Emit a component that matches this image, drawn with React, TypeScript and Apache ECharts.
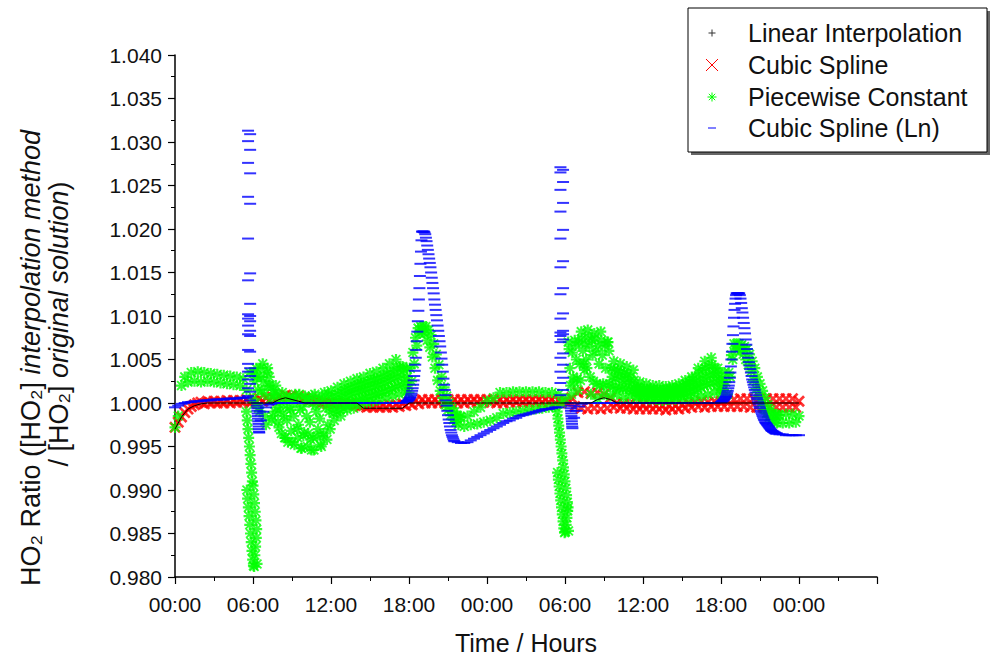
import { useEffect, useRef } from 'react';
import * as echarts from 'echarts';

const FONT = '"Liberation Sans", Arial, Helvetica, sans-serif';

// ---- axis labels ----
const TIME_LABELS = ['00:00', '06:00', '12:00', '18:00'];
const SERIES_NAMES = ['Linear Interpolation', 'Cubic Spline', 'Piecewise Constant', 'Cubic Spline (Ln)'];

// ---- Linear Interpolation (every 0.5 h from 0 h) ----
const BLACK = [
  0.9970, 0.9984, 0.9993, 0.9997, 0.9999,
  1.0000, 1.0000, 1.0000, 1.0000, 1.0000, 1.0000, 1.0000, 1.0000, 1.0000, 1.0000, 1.0000,
  1.0004, 1.0006, 1.0004, 1.0002,
  1.0000, 1.0000, 1.0000, 1.0000, 1.0000, 1.0000, 1.0000, 1.0000, 1.0000,
  0.9994, 0.9994, 0.9994, 0.9994, 0.9994, 0.9994, 0.9994,
  1.0000, 1.0000, 1.0000, 1.0000, 1.0000, 1.0000, 1.0000, 1.0000, 1.0000, 1.0000,
  1.0000, 1.0000, 1.0000, 1.0000, 1.0000, 1.0000, 1.0000, 1.0000, 1.0000, 1.0000,
  1.0000, 1.0000, 1.0000, 1.0000, 1.0000, 1.0000, 1.0000, 1.0000, 1.0000,
  1.0004, 1.0006, 1.0004,
  1.0000, 1.0000, 1.0000, 1.0000, 1.0000, 1.0000, 1.0000, 1.0000, 1.0000, 1.0000,
  1.0000, 1.0000, 1.0000, 1.0000, 1.0000, 1.0000, 1.0000, 1.0000, 1.0000, 1.0000,
  1.0000, 1.0000, 1.0000, 1.0000, 1.0000, 1.0000, 1.0000, 1.0000, 1.0000,
];

// ---- Cubic Spline (every 0.25 h from 0 h) ----
const RED = [
  0.9972, 0.9978, 0.9984, 0.9989,
  0.9993, 0.9996, 0.9998, 1.0000,
  1.0001, 0.9999, 1.0002, 1.0000,
  1.0002, 1.0000, 1.0002, 1.0000,
  1.0003, 1.0000, 1.0003, 1.0001,
  1.0003, 1.0001, 1.0004, 1.0000,
  1.0003, 1.0001, 1.0005, 1.0002,
  1.0006, 1.0003, 1.0007, 1.0004,
  1.0008, 1.0005, 1.0009, 1.0006,
  1.0008, 1.0005, 1.0008, 1.0004,
  1.0006, 1.0003, 1.0004, 1.0002,
  1.0002, 1.0000, 1.0001, 0.9999,
  1.0000, 0.9999, 1.0000, 0.9999,
  1.0000, 0.9998, 0.9999, 0.9998,
  0.9998, 0.9996, 0.9997, 0.9995,
  0.9997, 0.9995, 0.9997, 0.9995,
  0.9997, 0.9995, 0.9998, 0.9995,
  0.9998, 0.9996, 0.9999, 0.9997,
  1.0001, 0.9998, 1.0003, 0.9999,
  1.0004, 1.0000, 1.0004, 1.0000,
  1.0004, 1.0000, 1.0004, 1.0000,
  1.0004, 1.0000, 1.0004, 1.0000,
  1.0004, 1.0000, 1.0004, 1.0001,
  1.0004, 1.0001, 1.0004, 1.0001,
  1.0004, 1.0001, 1.0004, 1.0000,
  1.0004, 1.0000, 1.0004, 1.0001,
  1.0004, 1.0001, 1.0004, 1.0001,
  1.0004, 1.0001, 1.0004, 1.0001,
  1.0004, 1.0001, 1.0004, 1.0001,
  1.0004, 1.0000, 1.0003, 1.0001,
  1.0002, 1.0000, 1.0006, 0.9996,
  1.0012, 0.9994, 1.0013, 0.9993,
  1.0011, 0.9994, 1.0012, 0.9993,
  1.0010, 0.9994, 1.0006, 0.9995,
  1.0000, 0.9994, 0.9999, 0.9994,
  0.9999, 0.9993, 0.9998, 0.9993,
  0.9998, 0.9993, 0.9998, 0.9993,
  0.9997, 0.9993, 0.9997, 0.9992,
  0.9997, 0.9993, 0.9997, 0.9993,
  0.9998, 0.9994, 1.0000, 0.9995,
  1.0001, 0.9996, 1.0002, 0.9995,
  1.0001, 0.9996, 1.0002, 0.9996,
  1.0002, 0.9996, 1.0003, 0.9996,
  1.0004, 0.9996, 1.0005, 0.9996,
  1.0005, 0.9995, 1.0005, 0.9995,
  1.0005, 0.9995, 1.0005, 0.9995,
  1.0005, 0.9995, 1.0005, 0.9995,
  1.0005, 0.9995, 1.0005, 0.9995,
  1.0002,
];

// ---- Piecewise Constant ----
// 0 h .. 17.75 h, every 0.25 h
const GREEN_DAY1 = [
  0.9972, 0.9985, 1.0020, 1.0030,
  1.0024, 1.0035, 1.0025, 1.0036,
  1.0024, 1.0035, 1.0025, 1.0034,
  1.0024, 1.0033, 1.0023, 1.0032,
  1.0022, 1.0031, 1.0021, 1.0030,
  1.0020, 1.0028, 1.0015, 1.0035,
  1.0005, 1.0040, 0.9990, 1.0045,
  0.9975, 1.0030, 0.9985, 1.0020,
  0.9972, 1.0012, 0.9960, 1.0005,
  0.9955, 1.0010, 0.9975, 0.9948,
  1.0008, 0.9965, 0.9946, 1.0010,
  0.9970, 0.9950, 1.0012, 0.9975,
  1.0014, 0.9980, 1.0018, 0.9985,
  1.0022, 0.9992, 1.0025, 0.9994,
  1.0028, 0.9998, 1.0030, 1.0000,
  1.0034, 1.0002, 1.0036, 1.0004,
  1.0040, 1.0006, 1.0045, 1.0008,
  1.0050, 1.0010, 1.0042, 1.0012,
];
// 6.125 h .. 17.875 h, every 0.25 h (between the samples above)
const GREEN_DAY1_MID = [
  1.0025, 1.0015, 1.0030, 1.0010, 1.0040, 1.0005, 1.0010, 0.9995,
  0.9990, 0.9985, 0.9980, 0.9992, 0.9985, 0.9970, 0.9992, 0.9962,
  0.9985, 0.9978, 0.9960, 0.9990, 0.9982, 0.9962, 0.9995, 0.9990,
  0.9997, 1.0000, 1.0002, 1.0004, 1.0007, 1.0009, 1.0010, 1.0012,
  1.0013, 1.0014, 1.0015, 1.0016, 1.0018, 1.0019, 1.0020, 1.0021,
  1.0023, 1.0025, 1.0027, 1.0028, 1.0030, 1.0032, 1.0027, 1.0030,
];
// 6.0625 h .. 17.8125 h, every 0.25 h (upper part of the spread)
const GREEN_DAY1_UP = [
  1.0035, 1.0030, 1.0040, 1.0025, 1.0035, 1.0020, 1.0015, 1.0010,
  1.0002, 0.9998, 1.0008, 0.9995, 1.0005, 1.0000, 1.0010, 0.9996,
  1.0006, 1.0001, 1.0008, 0.9997, 1.0004, 1.0008, 1.0002, 1.0010,
  1.0006, 1.0008, 1.0010, 1.0012, 1.0015, 1.0016, 1.0018, 1.0019,
  1.0021, 1.0022, 1.0023, 1.0024, 1.0026, 1.0027, 1.0028, 1.0029,
  1.0031, 1.0033, 1.0035, 1.0037, 1.0040, 1.0042, 1.0038, 1.0040,
];
// 6.1875 h .. 17.9375 h, every 0.25 h (lower part of the spread)
const GREEN_DAY1_LOW = [
  1.0000, 0.9995, 1.0015, 0.9985, 1.0020, 0.9980, 0.9990, 0.9978,
  0.9965, 0.9960, 0.9955, 0.9968, 0.9952, 0.9960, 0.9948, 0.9966,
  0.9950, 0.9958, 0.9946, 0.9962, 0.9952, 0.9965, 0.9958, 0.9970,
  0.9988, 0.9990, 0.9992, 0.9994, 0.9998, 1.0000, 1.0001, 1.0002,
  1.0004, 1.0005, 1.0006, 1.0007, 1.0009, 1.0010, 1.0011, 1.0012,
  1.0014, 1.0015, 1.0017, 1.0018, 1.0020, 1.0021, 1.0019, 1.0021,
];
// 18.0 h .. 21.9 h, every 0.1 h
const GREEN_PEAK1 = [
  1.0012, 1.0040, 1.0025, 1.0058, 1.0045, 1.0075, 1.0066, 1.0086, 1.0080, 1.0088,
  1.0082, 1.0088, 1.0080, 1.0088, 1.0072, 1.0084, 1.0064, 1.0078, 1.0053, 1.0068,
  1.0040, 1.0056, 1.0026, 1.0044, 1.0014, 1.0030, 1.0006, 1.0018, 0.9998, 1.0008,
  0.9992, 1.0000, 0.9986, 0.9994, 0.9981, 0.9990, 0.9978, 0.9986, 0.9975, 0.9984,
];
// 22.0 h .. 42.25 h, every 0.25 h
const GREEN_DAY2 = [
  0.9984, 0.9973, 0.9985, 0.9975,
  0.9990, 0.9976, 0.9995, 0.9978,
  1.0002, 0.9980, 1.0006, 0.9983,
  1.0012, 0.9988, 1.0012, 0.9989,
  1.0013, 0.9990, 1.0013, 0.9991,
  1.0013, 0.9992, 1.0013, 0.9993,
  1.0013, 0.9994, 1.0012, 0.9995,
  1.0012, 0.9996, 1.0010, 1.0000,
  1.0005, 1.0070, 1.0010, 1.0072,
  1.0015, 1.0082, 1.0038, 1.0084,
  1.0010, 1.0080, 1.0005, 1.0082,
  1.0010, 1.0070, 1.0008, 1.0048,
  1.0010, 1.0045, 1.0006, 1.0042,
  1.0008, 1.0038, 1.0006, 1.0024,
  1.0005, 1.0022, 1.0004, 1.0020,
  1.0004, 1.0020, 1.0003, 1.0019,
  1.0004, 1.0020, 1.0004, 1.0022,
  1.0005, 1.0026, 1.0005, 1.0030,
  1.0006, 1.0040, 1.0008, 1.0048,
  1.0010, 1.0052, 1.0012, 1.0040,
  1.0010, 1.0035,
];
// 30.375 h .. 42.375 h, every 0.25 h
const GREEN_DAY2_MID = [
  1.0040, 1.0030, 1.0050, 1.0045, 1.0060, 1.0050, 1.0065, 1.0055,
  1.0060, 1.0045, 1.0055, 1.0040, 1.0060, 1.0030, 1.0028, 1.0030,
  1.0025, 1.0028, 1.0024, 1.0022, 1.0015,
  1.0018, 1.0014, 1.0013, 1.0012, 1.0012, 1.0012, 1.0012, 1.0011,
  1.0011, 1.0011, 1.0012, 1.0012, 1.0013, 1.0013, 1.0015, 1.0016,
  1.0018, 1.0020, 1.0022, 1.0025, 1.0028, 1.0030, 1.0032, 1.0034,
  1.0030, 1.0026, 1.0022, 1.0024,
];
// 30.3125 h .. 42.0625 h, every 0.25 h (upper part of the spread)
const GREEN_DAY2_UP = [
  1.0062, 1.0058, 1.0066, 1.0070, 1.0074, 1.0068, 1.0076, 1.0072,
  1.0074, 1.0066, 1.0072, 1.0066, 1.0070, 1.0040, 1.0038, 1.0038,
  1.0036, 1.0035, 1.0033, 1.0030, 1.0026, 1.0018, 1.0017, 1.0016,
  1.0016, 1.0016, 1.0016, 1.0015, 1.0015, 1.0015, 1.0016, 1.0016,
  1.0017, 1.0017, 1.0018, 1.0020, 1.0022, 1.0024, 1.0027, 1.0030,
  1.0034, 1.0038, 1.0040, 1.0042, 1.0044, 1.0040, 1.0034, 1.0028,
];
// 30.4375 h .. 42.1875 h, every 0.25 h (lower part of the spread)
const GREEN_DAY2_LOW = [
  1.0020, 1.0024, 1.0028, 1.0026, 1.0045, 1.0040, 1.0030, 1.0025,
  1.0022, 1.0020, 1.0022, 1.0020, 1.0022, 1.0018, 1.0017, 1.0018,
  1.0016, 1.0017, 1.0015, 1.0014, 1.0012, 1.0008, 1.0008, 1.0008,
  1.0008, 1.0008, 1.0007, 1.0007, 1.0007, 1.0007, 1.0008, 1.0008,
  1.0008, 1.0009, 1.0009, 1.0010, 1.0011, 1.0012, 1.0014, 1.0016,
  1.0018, 1.0020, 1.0021, 1.0022, 1.0024, 1.0020, 1.0016, 1.0015,
];
// 42.5 h .. 46.4 h, every 0.1 h
const GREEN_PEAK2 = [
  1.0010, 1.0035, 1.0030, 1.0055, 1.0050, 1.0068, 1.0062, 1.0068, 1.0062, 1.0068,
  1.0060, 1.0067, 1.0056, 1.0065, 1.0050, 1.0062, 1.0044, 1.0056, 1.0036, 1.0048,
  1.0026, 1.0040, 1.0016, 1.0030, 1.0008, 1.0022, 1.0000, 1.0014, 0.9993, 1.0006,
  0.9988, 0.9998, 0.9984, 0.9992, 0.9980, 0.9988, 0.9978, 0.9986, 0.9977, 0.9986,
];
// 46.5 h .. 48 h, every 0.25 h
const GREEN_END = [0.9986, 0.9977, 0.9987, 0.9977, 0.9987, 0.9978, 0.9985];
// sunrise dips, 5.5 h and 29.4 h onwards
const GREEN_DIP1 = [
  0.9990, 0.9900, 0.9980, 0.9890, 0.9970, 0.9880, 0.9960, 0.9870, 0.9950, 0.9860,
  0.9940, 0.9850, 0.9930, 0.9840, 0.9920, 0.9830, 0.9910, 0.9820, 0.9905, 0.9813,
  0.9895, 0.9812, 0.9885, 0.9825, 0.9875, 0.9835, 0.9865, 0.9845, 0.9855, 0.9815,
];
const GREEN_DIP2 = [
  0.9990, 0.9920, 0.9982, 0.9912, 0.9974, 0.9904, 0.9966, 0.9896, 0.9958, 0.9888,
  0.9950, 0.9880, 0.9942, 0.9872, 0.9934, 0.9864, 0.9926, 0.9856, 0.9918, 0.9851,
  0.9910, 0.9852, 0.9902, 0.9860, 0.9894, 0.9868, 0.9886, 0.9876, 0.9880, 0.9853,
];

// ---- Cubic Spline (Ln) ----
// 0 h .. 5.5 h, every 0.25 h
const BLUE_MORNING1 = [
  0.9995, 0.9997, 0.9999, 1.0000, 1.0001, 1.0001, 1.0002, 1.0002, 1.0002, 1.0003, 1.0003, 1.0003,
  1.0004, 1.0004, 1.0004, 1.0004, 1.0005, 1.0005, 1.0005, 1.0005, 1.0006, 1.0006, 1.0006,
];
// sunrise overshoot, [hour, ratio]
const BLUE_SPIKE1: [number, number][] = [
  [5.62, 1.0313], [5.78, 1.0309], [5.62, 1.0301], [5.78, 1.0291], [5.62, 1.0276], [5.78, 1.0264],
  [5.62, 1.0237], [5.78, 1.0229], [5.62, 1.0189], [5.78, 1.0149], [5.62, 1.0141], [5.78, 1.0114],
  [5.62, 1.0102], [5.78, 1.0100], [5.62, 1.0097], [5.78, 1.0094], [5.62, 1.0089], [5.78, 1.0083],
  [5.62, 1.0079], [5.78, 1.0077], [5.62, 1.0061], [5.78, 1.0059], [5.62, 1.0045], [5.78, 1.0040],
  [5.62, 1.0036], [5.78, 1.0031], [5.62, 1.0027], [5.78, 1.0022], [5.62, 1.0017], [5.78, 1.0013],
  [5.62, 1.0008], [5.78, 1.0003],
];
// 6.3 h onwards, every 0.015 h
const BLUE_DROP1 = [1.0000, 0.9997, 0.9994, 0.9991, 0.9988, 0.9985, 0.9982, 0.9979, 0.9976, 0.9973, 0.9970, 0.9967, 0.9966];
// 6.6 h .. 7.6 h, every 0.2 h
const BLUE_RECOVER1 = [0.9980, 0.9990, 0.9995, 0.9998, 0.9999, 1.0000];
// 8 h .. 17.5 h, every 0.5 h
const BLUE_DAY1 = [
  1.0000, 1.0000, 1.0000, 1.0000, 1.0000, 1.0000, 1.0000, 1.0000, 1.0000, 1.0000,
  1.0000, 1.0000, 1.0000, 1.0000, 1.0000, 1.0000, 1.0000, 1.0000, 1.0000, 1.0000,
];
// 17.8 h .. 18.96 h, every 0.04 h
const BLUE_RISE1 = [
  1.0001, 1.0002, 1.0002, 1.0003, 1.0003, 1.0004, 1.0005, 1.0006, 1.0007, 1.0009,
  1.0011, 1.0014, 1.0017, 1.0021, 1.0026, 1.0031, 1.0037, 1.0044, 1.0052, 1.0061,
  1.0071, 1.0082, 1.0094, 1.0106, 1.0119, 1.0132, 1.0146, 1.0160, 1.0174, 1.0187,
];
// 19.0 h .. 21.5 h, every 0.05 h
const BLUE_FALL1 = [
  1.0197, 1.0197, 1.0197, 1.0197, 1.0196, 1.0194, 1.0190, 1.0186, 1.0181, 1.0176,
  1.0171, 1.0166, 1.0161, 1.0156, 1.0150, 1.0144, 1.0138, 1.0132, 1.0126, 1.0119,
  1.0113, 1.0107, 1.0101, 1.0095, 1.0089, 1.0083, 1.0077, 1.0071, 1.0065, 1.0058,
  1.0051, 1.0044, 1.0036, 1.0028, 1.0021, 1.0015, 1.0009, 1.0003, 0.9997, 0.9991,
  0.9986, 0.9981, 0.9977, 0.9973, 0.9969, 0.9966, 0.9963, 0.9961, 0.9959, 0.9957,
  0.9956,
];
// 21.75 h .. 29.5 h, every 0.25 h
const BLUE_NIGHT1 = [
  0.9955, 0.9954, 0.9954, 0.9955, 0.9957, 0.9959, 0.9961, 0.9963,
  0.9965, 0.9967, 0.9969, 0.9971, 0.9973, 0.9975, 0.9977, 0.9979,
  0.9980, 0.9982, 0.9983, 0.9985, 0.9986, 0.9987, 0.9988, 0.9989,
  0.9990, 0.9991, 0.9992, 0.9993, 0.9993, 0.9994, 0.9995, 0.9995,
];
const BLUE_SPIKE2: [number, number][] = [
  [29.65, 1.0271], [29.85, 1.0268], [29.65, 1.0265], [29.85, 1.0254], [29.65, 1.0245], [29.85, 1.0230],
  [29.65, 1.0220], [29.85, 1.0199], [29.65, 1.0189], [29.85, 1.0163], [29.65, 1.0156], [29.85, 1.0132],
  [29.65, 1.0125], [29.85, 1.0103], [29.65, 1.0097], [29.85, 1.0083], [29.65, 1.0081], [29.85, 1.0079],
  [29.65, 1.0077], [29.85, 1.0073], [29.65, 1.0070], [29.85, 1.0057], [29.65, 1.0052], [29.85, 1.0044],
  [29.65, 1.0036], [29.85, 1.0029], [29.65, 1.0023], [29.85, 1.0015], [29.65, 1.0009],
];
// 30.42 h onwards, every 0.015 h
const BLUE_DROP2 = [1.0000, 0.9997, 0.9994, 0.9991, 0.9988, 0.9985, 0.9982, 0.9979, 0.9976, 0.9973, 0.9971];
// 30.7 h .. 31.5 h, every 0.2 h
const BLUE_RECOVER2 = [0.9983, 0.9991, 0.9996, 0.9999, 1.0000];
// 32 h .. 41.5 h, every 0.5 h
const BLUE_DAY2 = [
  1.0000, 1.0000, 1.0000, 1.0000, 1.0000, 1.0000, 1.0000, 1.0000, 1.0000, 1.0000,
  1.0000, 1.0000, 1.0000, 1.0000, 1.0000, 1.0000, 1.0000, 1.0000, 1.0000, 1.0000,
];
// 42.0 h .. 43.36 h, every 0.04 h
const BLUE_RISE2 = [
  1.0001, 1.0001, 1.0002, 1.0002, 1.0003,
  1.0003, 1.0004, 1.0005, 1.0006, 1.0007, 1.0008, 1.0010, 1.0012, 1.0014, 1.0017,
  1.0020, 1.0024, 1.0029, 1.0035, 1.0042, 1.0050, 1.0059, 1.0068, 1.0078, 1.0088,
  1.0098, 1.0107, 1.0114, 1.0120, 1.0124, 1.0126, 1.0126, 1.0126, 1.0126, 1.0126,
];
// 43.4 h .. 46.3 h, every 0.05 h
const BLUE_FALL2 = [
  1.0126, 1.0124, 1.0120, 1.0115, 1.0109, 1.0104, 1.0098, 1.0092, 1.0086, 1.0080,
  1.0073, 1.0067, 1.0062, 1.0057, 1.0052, 1.0047, 1.0043, 1.0039, 1.0035, 1.0031,
  1.0027, 1.0024, 1.0021, 1.0018, 1.0015, 1.0012, 1.0009, 1.0006, 1.0004, 1.0001,
  0.9999, 0.9996, 0.9994, 0.9991, 0.9989, 0.9987, 0.9985, 0.9983, 0.9981, 0.9980,
  0.9978, 0.9977, 0.9976, 0.9975, 0.9974, 0.9973, 0.9972, 0.9971, 0.9970, 0.9969,
  0.9968, 0.9968, 0.9967, 0.9967, 0.9966, 0.9966, 0.9965, 0.9965, 0.9965,
];
// 46.5 h .. 48 h, every 0.25 h
const BLUE_END = [0.9964, 0.9964, 0.9963, 0.9963, 0.9963, 0.9963, 0.9963];

// pair regularly sampled values with their sample hours
const seg = (start: number, step: number, values: number[]): [number, number][] =>
  values.map((v, i) => [Math.round((start + i * step) * 10000) / 10000, v]);

const blackData = seg(0, 0.5, BLACK);
const redData = seg(0, 0.25, RED);
const greenData = [
  ...seg(0, 0.25, GREEN_DAY1),
  ...seg(6.125, 0.25, GREEN_DAY1_MID),
  ...seg(6.0625, 0.25, GREEN_DAY1_UP),
  ...seg(6.1875, 0.25, GREEN_DAY1_LOW),
  ...seg(18, 0.1, GREEN_PEAK1),
  ...seg(22, 0.25, GREEN_DAY2),
  ...seg(30.375, 0.25, GREEN_DAY2_MID),
  ...seg(30.3125, 0.25, GREEN_DAY2_UP),
  ...seg(30.4375, 0.25, GREEN_DAY2_LOW),
  ...seg(42.5, 0.1, GREEN_PEAK2),
  ...seg(46.5, 0.25, GREEN_END),
  ...seg(5.5, 0.028, GREEN_DIP1),
  ...seg(29.4, 0.03, GREEN_DIP2),
];
const blueData = [
  ...seg(0, 0.25, BLUE_MORNING1),
  ...BLUE_SPIKE1,
  ...seg(6.3, 0.015, BLUE_DROP1),
  ...seg(6.6, 0.2, BLUE_RECOVER1),
  ...seg(8, 0.5, BLUE_DAY1),
  ...seg(17.8, 0.04, BLUE_RISE1),
  ...seg(19, 0.05, BLUE_FALL1),
  ...seg(21.75, 0.25, BLUE_NIGHT1),
  ...BLUE_SPIKE2,
  ...seg(30.42, 0.015, BLUE_DROP2),
  ...seg(30.7, 0.2, BLUE_RECOVER2),
  ...seg(32, 0.5, BLUE_DAY2),
  ...seg(42, 0.04, BLUE_RISE2),
  ...seg(43.4, 0.05, BLUE_FALL2),
  ...seg(46.5, 0.25, BLUE_END),
];

// marker shapes (filled outlines of a bold x and an eight-armed asterisk)
const CROSS =
  'path://M0,1.6L1.6,0L5,3.4L8.4,0L10,1.6L6.6,5L10,8.4L8.4,10L5,6.6L1.6,10L0,8.4L3.4,5Z';
const STAR =
  'path://M4,0H6V10H4Z M0,4H10V6H0Z M1.6,0.4L9.6,8.4L8.4,9.6L0.4,1.6Z M8.4,0.4L9.6,1.6L1.6,9.6L0.4,8.4Z';

const RED_C = '#ff0000';
const GREEN_C = '#00ff00';
const BLUE_C = '#0000ff';

function legendGraphic() {
  const lx = 712;
  const tx = 748;
  const rows = [33, 65, 97, 128];
  const ln = (x1: number, y1: number, x2: number, y2: number, color: string) => ({
    type: 'line',
    shape: { x1, y1, x2, y2 },
    style: { stroke: color, lineWidth: 1 },
  });
  return [
    { type: 'rect', shape: { x: 691, y: 11, width: 299, height: 144 }, style: { fill: '#666' } },
    { type: 'rect', shape: { x: 688, y: 8, width: 299, height: 144 }, style: { fill: '#fff', stroke: '#000', lineWidth: 1 } },
    ln(lx - 3.5, rows[0], lx + 3.5, rows[0], '#333'),
    ln(lx, rows[0] - 3.5, lx, rows[0] + 3.5, '#333'),
    ln(lx - 6, rows[1] - 6, lx + 6, rows[1] + 6, RED_C),
    ln(lx + 6, rows[1] - 6, lx - 6, rows[1] + 6, RED_C),
    ln(lx - 4.5, rows[2], lx + 4.5, rows[2], GREEN_C),
    ln(lx, rows[2] - 4.5, lx, rows[2] + 4.5, GREEN_C),
    ln(lx - 3.2, rows[2] - 3.2, lx + 3.2, rows[2] + 3.2, GREEN_C),
    ln(lx + 3.2, rows[2] - 3.2, lx - 3.2, rows[2] + 3.2, GREEN_C),
    ln(lx - 4, rows[3], lx + 4, rows[3], BLUE_C),
    ...SERIES_NAMES.map((name, i) => ({
      type: 'text',
      x: tx,
      y: rows[i],
      style: { text: name, fontSize: 25, fontFamily: FONT, fill: '#111', align: 'left', verticalAlign: 'middle' },
    })),
  ];
}

function yTitleGraphic() {
  const rich = {
    n: { fontSize: 27, fontFamily: FONT, fill: '#111' },
    i: { fontSize: 27, fontFamily: FONT, fontStyle: 'italic', fill: '#111' },
  };
  return [
    {
      type: 'text',
      x: 31,
      y: 358,
      rotation: Math.PI / 2,
      style: { text: '{n|HO₂ Ratio ([HO₂] }{i|interpolation method}', rich, align: 'center', verticalAlign: 'middle' },
    },
    {
      type: 'text',
      x: 59,
      y: 324,
      rotation: Math.PI / 2,
      style: { text: '{n|/ [HO₂] }{i|original solution}{n|)}', rich, align: 'center', verticalAlign: 'middle' },
    },
  ];
}

export default function App() {
  const ref = useRef<HTMLDivElement>(null);

  useEffect(() => {
    if (!ref.current) return;
    const chart = echarts.init(ref.current, null, { renderer: 'svg' });
    const axisLine = { show: true, lineStyle: { color: '#000', width: 1.5 } };
    chart.setOption({
      animation: false,
      backgroundColor: '#fff',
      grid: { left: 175, right: 118, top: 55, bottom: 78, outerBoundsMode: 'none' },
      xAxis: {
        type: 'value',
        min: 0,
        max: 54,
        interval: 6,
        axisLine,
        axisTick: { show: true, inside: false, length: 7, lineStyle: { color: '#000', width: 1.2 } },
        minorTick: { show: true, splitNumber: 2, length: 4, lineStyle: { color: '#000', width: 1 } },
        splitLine: { show: false },
        axisLabel: {
          formatter: (v: number) => (v >= 54 ? '' : TIME_LABELS[Math.round(v / 6) % 4]),
          fontSize: 21,
          fontFamily: FONT,
          color: '#111',
          margin: 17,
        },
        name: 'Time / Hours',
        nameLocation: 'middle',
        nameGap: 53,
        nameTextStyle: { fontSize: 25, fontFamily: FONT, color: '#111' },
      },
      yAxis: {
        type: 'value',
        min: 0.98,
        max: 1.04,
        interval: 0.005,
        axisLine,
        axisTick: { show: true, inside: false, length: 7, lineStyle: { color: '#000', width: 1.2 } },
        minorTick: { show: true, splitNumber: 2, length: 4, lineStyle: { color: '#000', width: 1 } },
        splitLine: { show: false },
        axisLabel: {
          formatter: (v: number) => v.toFixed(3),
          fontSize: 21,
          fontFamily: FONT,
          color: '#111',
          margin: 13,
        },
      },
      series: [
        {
          name: SERIES_NAMES[0],
          type: 'line',
          data: blackData,
          symbol: 'none',
          lineStyle: { color: '#000', width: 1 },
          silent: true,
        },
        {
          name: SERIES_NAMES[1],
          type: 'scatter',
          data: redData,
          symbol: CROSS,
          symbolSize: 12,
          itemStyle: { color: RED_C },
          silent: true,
        },
        {
          name: SERIES_NAMES[2],
          type: 'scatter',
          data: greenData,
          symbol: STAR,
          symbolSize: 11,
          itemStyle: { color: GREEN_C },
          silent: true,
        },
        {
          name: SERIES_NAMES[3],
          type: 'scatter',
          data: blueData,
          symbol: 'rect',
          symbolSize: [12, 2],
          itemStyle: { color: BLUE_C },
          silent: true,
        },
      ],
      graphic: [...yTitleGraphic(), ...legendGraphic()],
    });
    return () => chart.dispose();
  }, []);

  return (
    <div
      ref={ref}
      style={{ position: 'fixed', left: 0, top: 0, width: 995, height: 655, background: '#fff' }}
    />
  );
}
